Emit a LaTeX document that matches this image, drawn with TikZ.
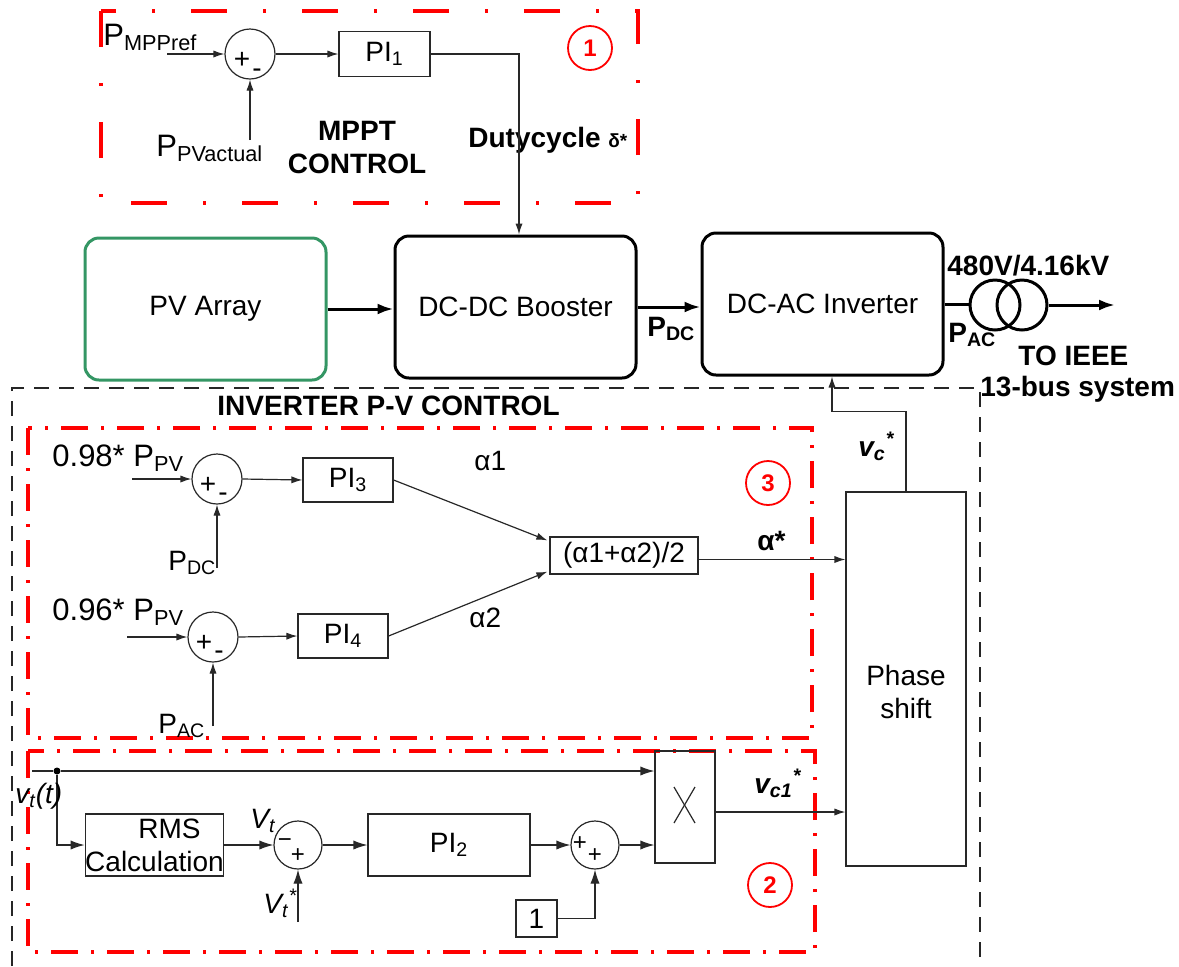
\documentclass[tikz,border=0pt]{standalone}
\usepackage{fontspec}
\setmainfont{Liberation Sans}
\usetikzlibrary{arrows.meta,calc}
\definecolor{pvgreen}{RGB}{52,150,100}
\definecolor{lnc}{RGB}{40,40,40}
\newcommand\sbs[1]{\textsubscript{#1}}
\newcommand\sps[1]{\textsuperscript{#1}}
\begin{document}
\begin{tikzpicture}[x=0.5pt,y=-0.5pt,
 font=\fontsize{14}{16.5}\selectfont,
 ctl/.style={draw=lnc,line width=0.6pt},
 arr/.style={ctl,-{Latex[length=5.5pt,width=3.6pt]}},
 arrb/.style={ctl,-{Latex[length=7pt,width=4.6pt]}},
 mainln/.style={draw=black,line width=1.5pt},
 mainarr/.style={mainln,-{Latex[length=8pt,width=5.5pt]}},
 blk/.style={draw=black,line width=1.5pt,rounded corners=7pt,minimum width=120.5pt,minimum height=71pt,inner sep=0pt},
 cbox/.style={draw=lnc,line width=0.6pt,inner sep=0pt},
 sumc/.style={circle,draw=lnc,line width=0.6pt,inner sep=0pt,minimum size=25pt},
 trc/.style={circle,draw=black,line width=1.5pt,inner sep=0pt,minimum size=25pt},
 rednum/.style={circle,draw=red,line width=0.9pt,text=red,font=\fontsize{12}{14}\selectfont\bfseries,minimum size=22pt,inner sep=0pt},
 redbox/.style={draw=red,line width=1.6pt,dash pattern=on 13.5pt off 6.5pt on 1.5pt off 6.5pt},
 redboxw/.style={draw=red,line width=1.6pt,dash pattern=on 18pt off 18pt on 1.5pt off 18pt},
 blkdash/.style={draw=black!85,line width=0.7pt,dash pattern=on 7.5pt off 5pt},
 lbl/.style={anchor=base west,inner sep=0pt},
 lblb/.style={lbl,font=\fontsize{15.5}{18}\selectfont},
 bl/.style={lbl,font=\fontsize{14}{16.5}\selectfont\bfseries},
 itl/.style={lbl,font=\fontsize{14}{16.5}\selectfont\itshape},
 bitl/.style={lbl,font=\fontsize{14}{16.5}\selectfont\bfseries\itshape},
 sgn/.style={inner sep=0pt,font=\fontsize{14}{16}\selectfont},
 sgnt/.style={inner sep=0pt,font=\fontsize{12}{14}\selectfont},
]
\useasboundingbox (0,0) rectangle (1179,966);

% ---- region frames
\draw[redboxw] (101,11) rectangle (638,203);
\draw[blkdash] (12,966) -- (12,388) -- (980,388) -- (980,966);
\draw[redbox] (28,428) rectangle (812,738);
\draw[redbox] (28,751) rectangle (815,952);

% ---- MPPT control
\node[sumc] (s1) at (250,54) {};
\node[sgn] (s1p) at ($(s1)+(-8,6)$) {+};
\node[sgn] (s1m) at ($(s1)+(7,19)$) {-};
\node[cbox,minimum width=45.5pt,minimum height=22.5pt] (pi1) at (384.5,54) {PI\sbs{1}};
\node[lblb] (lpmpp) at (103,45) {P\sbs{MPPref}};
\coordinate (pmppin) at (167,54);
\draw[arr] (pmppin) -- (s1.west);
\draw[arr] (s1.east) -- (pi1.west);
\node[lblb] (lppva) at (156,156) {P\sbs{PVactual}};
\coordinate (ppvain) at (250,140);
\draw[arr] (ppvain) -- (s1.south);
\node[bl,anchor=center,align=center] (lmppt) at (357,147) {MPPT\\CONTROL};
\node[bl] (lduty) at (468,147) {Dutycycle {\fontsize{9.5}{11}\selectfont δ*}};
\node[rednum] (n1) at (590,48) {1};

% ---- power stage
\node[blk,draw=pvgreen] (pv) at (205.5,309) {PV Array};
\node[blk] (boost) at (515.5,307) {DC-DC Booster};
\node[blk] (inv) at (822.5,304) {DC-AC Inverter};
\draw[arr] (pi1.east) -| ($(boost.north)+(3.5,0)$);
\draw[mainarr] (pv.east) -- (pv.east -| boost.west);
\draw[mainarr] (boost.east) -- (boost.east -| inv.west);
\node[bl] (lpdcb) at (647,336) {P\sbs{DC}};
\node[trc] (t1) at (995,305) {};
\node[trc] (t2) at (1022,305) {};
\draw[mainln] (inv.east) -- (inv.east -| t1.west);
\coordinate (grid) at (1115,305);
\draw[mainarr] (t2.east) -- (grid);
\node[bl] (ltr) at (947,275) {480V/4.16kV};
\node[bl] (lpacb) at (948,342) {P\sbs{AC}};
\node[bl] (lto) at (1018,365) {TO IEEE};
\node[bl] (lbus) at (980,396) {13-bus system};
\node[bl] (linv) at (217,415) {INVERTER P-V CONTROL};

% ---- P-V control (3)
\node[sumc] (s3) at (217,479) {};
\node[sgn] (s3p) at ($(s3)+(-9,6)$) {+};
\node[sgn] (s3m) at ($(s3)+(6,18)$) {-};
\node[cbox,minimum width=45pt,minimum height=22pt] (pi3) at (348,480) {PI\sbs{3}};
\node[lblb] (l98) at (52,466) {0.98* P\sbs{PV}};
\coordinate (in98) at (132,479);
\draw[arr] (in98) -- (s3.west);
\draw[arr] (s3.east) -- (pi3.west);
\node[lbl] (lpdc) at (168,570) {P\sbs{DC}};
\coordinate (pdcin) at (217,568);
\draw[arr] (pdcin) -- (s3.south);

\node[sumc] (s4) at (213,637) {};
\node[sgn] (s4p) at ($(s4)+(-9,6)$) {+};
\node[sgn] (s4m) at ($(s4)+(6,18)$) {-};
\node[cbox,minimum width=45pt,minimum height=22pt] (pi4) at (343,636) {PI\sbs{4}};
\node[lblb] (l96) at (52,620) {0.96* P\sbs{PV}};
\coordinate (in96) at (127,637);
\draw[arr] (in96) -- (s4.west);
\draw[arr] (s4.east) -- (pi4.west);
\node[lbl] (lpac) at (158,733) {P\sbs{AC}};
\coordinate (pacin) at (213,726);
\draw[arr] (pacin) -- (s4.south);

\node[cbox,minimum width=74pt,minimum height=18.5pt] (avg) at (624,555.5) {(α1+α2)/2};
\draw[arr] (pi3.east) -- ($(avg.north west)+(-2,4)$);
\draw[arr] (pi4.east) -- ($(avg.south west)+(-2,-3)$);
\node[lbl] (la1) at (474,470) {α1};
\node[lbl] (la2) at (469,627) {α2};
\node[cbox,minimum width=60pt,minimum height=187pt,
  label={[name=lph,align=center,yshift=-6.5pt]center:Phase\\shift}] (ph) at (906,679) {};
\coordinate (ae) at ($(avg.east)+(0,4)$);
\draw[arr] (ae) -- (ae -| ph.west);
\node[bl] (lastar) at (757,550) {α*};
\node[rednum] (n3) at (768,483) {3};
\draw[arr] (ph.north) -- ++(0,-80) -| ($(inv.south)+(9.5,0)$);
\node[bitl] (lvc) at (858,456) {v\sbs{c}\sps{*}};

% ---- voltage control (2)
\node[circle,fill=black,inner sep=0pt,minimum size=3.5pt] (dot) at (57,771) {};
\coordinate (vin) at (32,771);
\node[cbox,minimum width=30pt,minimum height=56pt] (xb) at (685,807) {};
\draw[ctl] (vin) -- (dot);
\draw[arrb] (dot) -- (dot -| xb.west);
\node[cbox,minimum width=68.5pt,minimum height=31pt,align=center] (rms) at (154.5,845) {\hspace*{15pt}RMS\\Calculation};
\draw[arrb] (dot) |- (rms.west);
\node[sumc,minimum size=24pt] (s5) at (298,845) {};
\node[sgnt] (s5m) at ($(s5)+(-13,-2)$) {−};
\node[sgnt] (s5p) at ($(s5)+(0,11)$) {+};
\draw[arrb] (rms.east) -- (s5.west);
\node[itl] (lvt) at (250,828) {V\sbs{t}};
\node[itl] (lvts) at (263,913) {V\sbs{t}\sps{*}};
\coordinate (vtsin) at (298,922);
\draw[arrb] (vtsin) -- (s5.south);
\node[cbox,minimum width=81pt,minimum height=31pt] (pi2) at (449,845) {PI\sbs{2}};
\draw[arrb] (s5.east) -- (pi2.west);
\node[sumc,minimum size=24pt] (s6) at (595,845) {};
\node[sgnt] (s6p1) at ($(s6)+(-15,-1)$) {+};
\node[sgnt] (s6p2) at ($(s6)+(0,11)$) {+};
\draw[arrb] (pi2.east) -- (s6.west);
\draw[arrb] (s6.east) -- (s6.east -| xb.west);
\node[cbox,minimum width=20.5pt,minimum height=18.5pt] (one) at (536.5,918.5) {1};
\draw[arrb] (one.east) -| (s6.south);
\draw[ctl] ($(xb.center)+(-11,-20)$) -- ($(xb.center)+(10,16)$);
\draw[ctl] ($(xb.center)+(10,-20)$) -- ($(xb.center)+(-11,16)$);
\coordinate (xo) at ($(xb.east)+(0,5)$);
\draw[arr] (xo) -- (xo -| ph.west);
\node[bitl] (lvc1) at (754,793) {v\sbs{c1}\sps{*}};
\node[rednum] (n2) at (770,885) {2};
\node[itl] (lvtt) at (15,803) {v\sbs{t}(t)};
\end{tikzpicture}
\end{document}
